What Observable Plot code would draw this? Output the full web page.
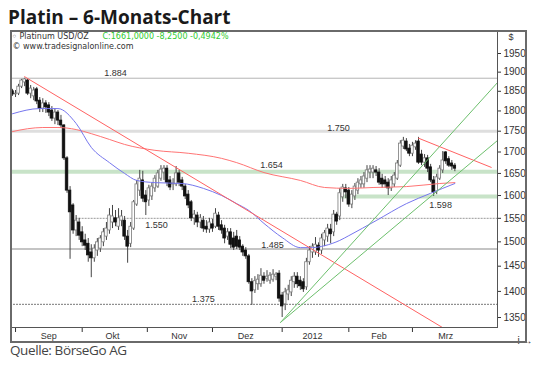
<!DOCTYPE html>
<html><head><meta charset="utf-8">
<script src="https://cdn.jsdelivr.net/npm/d3@7"></script>
<script src="https://cdn.jsdelivr.net/npm/@observablehq/plot@0.6"></script>
<style>
body{margin:0;background:#fff;width:535px;height:366px;overflow:hidden;position:relative;}
#title{position:absolute;left:8px;top:8px;font:bold 19px/19px "Open Sans",sans-serif;color:#1a1a1a;white-space:nowrap;}
#chart{position:absolute;left:0;top:28px;z-index:1;}
#box{position:absolute;left:10px;top:30px;width:517px;height:313px;box-sizing:border-box;border:2px solid #6a6a6a;pointer-events:none;z-index:2;}
#caption{position:absolute;left:10px;top:343px;font:13.5px/14px "Open Sans",sans-serif;letter-spacing:-0.4px;color:#444;white-space:nowrap;}
</style></head>
<body>
<div id="title">Platin – 6-Monats-Chart</div>
<div id="chart"></div>
<div id="box"></div>
<div id="caption">Quelle: BörseGo AG</div>
<script>
// Daily candles (trading-day index 0 = 31 Aug 2011)
const open = [1850,1842,1844,1862,1873,1878,1844,1837,1855,1826,
 1806,1819,1814,1801,1781,1796,1776,1764,1685,1611,
 1578,1524,1541,1520,1503,1496,1478,1466,1482,1486,
 1499,1511,1524,1541,1550,1532,1545,1545,1511,1496,
 1528,1580,1611,1634,1600,1589,1598,1616,1620,1638,
 1652,1661,1634,1625,1625,1650,1634,1620,1602,1585,
 1550,1556,1541,1545,1532,1526,1537,1532,1556,1535,
 1528,1511,1520,1507,1511,1503,1490,1482,1470,1418,
 1402,1414,1414,1429,1425,1421,1423,1429,1435,1392,
 1375,1394,1398,1418,1429,1421,1418,1408,1458,1478,
 1478,1492,1482,1503,1511,1526,1520,1558,1554,1596,
 1616,1611,1580,1598,1611,1625,1625,1638,1652,1652,
 1657,1652,1638,1634,1629,1616,1625,1638,1668,1713,
 1725,1708,1696,1711,1725,1694,1675,1685,1664,1634,
 1609,1638,1657,1699,1683,1673,1668];
const close = [1842,1844,1862,1878,1881,1844,1857,1852,1824,1806,
 1819,1809,1796,1781,1796,1776,1764,1685,1611,1563,
 1524,1545,1513,1499,1492,1472,1466,1486,1499,1507,
 1520,1528,1556,1554,1541,1550,1554,1511,1490,1532,
 1585,1625,1638,1593,1585,1616,1620,1638,1650,1659,
 1661,1629,1618,1627,1650,1629,1620,1598,1578,1550,
 1558,1541,1550,1528,1526,1541,1528,1560,1532,1524,
 1507,1520,1494,1488,1490,1488,1478,1470,1418,1400,
 1420,1423,1431,1421,1429,1431,1433,1433,1386,1371,
 1398,1402,1421,1429,1414,1410,1404,1458,1482,1490,
 1494,1482,1507,1518,1528,1516,1558,1543,1605,1618,
 1607,1580,1602,1620,1629,1634,1643,1657,1659,1661,
 1652,1629,1625,1625,1616,1634,1645,1673,1720,1727,
 1706,1696,1715,1720,1675,1675,1685,1661,1634,1607,
 1641,1661,1680,1678,1668,1666,1661];
const high = [1855,1852,1868,1881,1884,1881,1865,1860,1860,1834,
 1831,1826,1821,1811,1806,1801,1789,1766,1689,1620,
 1582,1556,1550,1532,1516,1507,1494,1494,1507,1513,
 1528,1541,1571,1578,1567,1571,1567,1554,1524,1541,
 1589,1634,1657,1655,1611,1623,1627,1645,1657,1668,
 1668,1668,1643,1638,1666,1657,1641,1625,1611,1589,
 1567,1563,1558,1554,1545,1550,1548,1571,1563,1545,
 1535,1528,1528,1520,1524,1511,1494,1488,1474,1425,
 1429,1433,1445,1437,1441,1437,1443,1437,1441,1398,
 1406,1412,1429,1437,1437,1429,1425,1466,1490,1496,
 1509,1498,1516,1524,1537,1537,1567,1563,1616,1625,
 1625,1618,1611,1627,1638,1643,1652,1668,1668,1668,
 1666,1661,1648,1643,1638,1643,1652,1680,1727,1735,
 1732,1718,1723,1727,1735,1704,1694,1692,1671,1643,
 1648,1668,1701,1701,1689,1680,1673];
const low = [1837,1834,1839,1857,1862,1839,1831,1826,1816,1796,
 1796,1794,1786,1774,1766,1764,1757,1680,1605,1464,
 1516,1511,1503,1490,1482,1458,1427,1458,1470,1478,
 1490,1503,1516,1528,1532,1524,1532,1503,1456,1488,
 1524,1576,1598,1585,1556,1576,1589,1607,1616,1632,
 1634,1620,1611,1611,1620,1620,1611,1591,1571,1543,
 1535,1530,1528,1520,1518,1518,1520,1528,1524,1516,
 1496,1503,1486,1482,1484,1482,1470,1464,1414,1373,
 1396,1402,1408,1414,1418,1414,1418,1421,1379,1350,
 1363,1382,1390,1406,1406,1402,1398,1402,1452,1466,
 1472,1468,1474,1490,1499,1496,1511,1535,1545,1585,
 1593,1574,1571,1589,1602,1616,1616,1629,1638,1638,
 1643,1623,1616,1616,1600,1609,1618,1634,1664,1706,
 1701,1689,1689,1704,1671,1668,1664,1652,1629,1598,
 1602,1634,1650,1671,1664,1657,1654];

// moving averages
const blueIdx = [0,9,15,21,26,32,37,41,47,56,63,69,74,78,83,89,95,99,103,108,111,120,130,138,146];
const blueVal = [1793,1806,1806,1769,1711,1675,1650,1634,1629,1627,1616,1600,1582,1567,1539,1509,1488,1488,1492,1503,1513,1545,1582,1605,1627];
const redIdx = [0,5,10,15,21,26,32,37,47,58,69,74,83,95,103,111,119,130,141,146];
const redVal = [1749,1756,1759,1759,1754,1744,1730,1718,1704,1697,1685,1675,1652,1634,1618,1616,1618,1620,1627,1629];

// trend lines [index, price]
const redTrend1 = [[4,1888],[142,1331]];
const redTrend2 = [[134,1733],[158,1664]];
const greenTrend1 = [[88.5,1341],[160,1872]];
const greenTrend2 = [[88.5,1341],[160,1727]];

// horizontal levels
const levels = [1884,1750,1654,1598,1550,1485,1375];

// axes
const yTicks = [1950,1900,1850,1800,1750,1700,1650,1600,1550,1500,1450,1400,1350];
const monthTicks = [1,23,44.5,66,89,111,132];
const monthLabels = ["Sep","Okt","Nov","Dez","2012","Feb","Mrz"];
const monthLabelAt = [12,33,55,77,99,121,143];

const legendName = "Platinum USD/OZ";
const legendQuote = "C:1661,0000 -8,2500 -0,4942%";
const legendSite = "© www.tradesignalonline.com";

const candles = close.map((c, i) => ({i, open: open[i], high: high[i], low: low[i], close: c}));
const blueMA = blueIdx.map((i, k) => ({i, v: blueVal[k]}));
const redMA = redIdx.map((i, k) => ({i, v: redVal[k]}));
const fmt = v => `${Math.floor(v / 1000)}.${String(v % 1000).padStart(3, "0")}`;

const xMax = 160.07;
const labelAt = [34, 107.6, 85.5, 141.3, 47.5, 85.8, 63];
const labelDy = [-5, -3, -7, 9, 7, -4, -5];

const chart = Plot.plot({
  width: 535, height: 318,
  marginLeft: 10, marginRight: 38, marginTop: 2, marginBottom: 19,
  style: {background: "transparent", fontFamily: "'Liberation Sans', Arial, sans-serif", fontSize: "10px", color: "#333", overflow: "visible"},
  x: {type: "linear", domain: [-0.66, xMax], axis: null},
  y: {type: "log", domain: [1350, 1950], range: [289, 25], axis: null},
  marks: [
    Plot.ruleY([levels[1]], {stroke: "#dedede", strokeWidth: 3}),
    Plot.ruleY([levels[2]], {stroke: "#c8e3c8", strokeWidth: 4}),
    Plot.ruleY([levels[3]], {x1: 107.5, x2: xMax, stroke: "#c8e3c8", strokeWidth: 4}),
    Plot.ruleY([levels[0]], {stroke: "#b4b4b4", strokeWidth: 1}),
    Plot.ruleY([levels[5]], {stroke: "#b0b0b0", strokeWidth: 1.5}),
    Plot.ruleY([levels[4]], {x1: 21, x2: xMax, stroke: "#999", strokeDasharray: "2,1"}),
    Plot.ruleY([levels[6]], {stroke: "#777", strokeDasharray: "2,1"}),
    // candles
    Plot.ruleX(candles, {x: "i", y1: "low", y2: "high", stroke: "#444", strokeWidth: 1}),
    Plot.rect(candles.filter(d => d.close >= d.open), {x1: d => d.i - 0.42, x2: d => d.i + 0.42, y1: "open", y2: "close", fill: "#fff", stroke: "#7a7a7a", strokeWidth: 0.8}),
    Plot.rect(candles.filter(d => d.close < d.open), {x1: d => d.i - 0.42, x2: d => d.i + 0.42, y1: "open", y2: "close", fill: "#111", stroke: "#111", strokeWidth: 0.8}),
    // moving averages
    Plot.line(redMA, {x: "i", y: "v", stroke: "#ff7474", strokeWidth: 1, curve: "monotone-x"}),
    Plot.line(blueMA, {x: "i", y: "v", stroke: "#7676ee", strokeWidth: 1, curve: "monotone-x"}),
    // trend lines
    Plot.line(redTrend1, {stroke: "#ff6262", strokeWidth: 1, clip: true}),
    Plot.line(redTrend2, {stroke: "#ff6262", strokeWidth: 1, clip: true}),
    Plot.line(greenTrend1, {stroke: "#6cbf6c", strokeWidth: 1, clip: true}),
    Plot.line(greenTrend2, {stroke: "#6cbf6c", strokeWidth: 1, clip: true}),
    // level labels
    ...levels.map((v, k) => Plot.text([v], {x: labelAt[k], y: d => d, text: fmt, dy: labelDy[k], fontSize: 9, fill: "#333", lineAnchor: "middle"})),
    // legend
    Plot.text(["○"], {frameAnchor: "top-left", dx: 2, dy: 6, fontSize: 6, fill: "#555", textAnchor: "start", lineAnchor: "middle"}),
    Plot.text([legendName], {frameAnchor: "top-left", dx: 9, dy: 6, fontSize: 8, fill: "#333", fontFamily: "DejaVu Sans", textAnchor: "start", lineAnchor: "middle"}),
    Plot.text([legendQuote], {frameAnchor: "top-left", dx: 92, dy: 6, fontSize: 8, fill: "#2fcb2f", fontFamily: "DejaVu Sans", textAnchor: "start", lineAnchor: "middle"}),
    Plot.text([legendSite], {frameAnchor: "top-left", dx: 2, dy: 16, fontSize: 8, fill: "#333", fontFamily: "DejaVu Sans", textAnchor: "start", lineAnchor: "middle"}),
    Plot.text(["$"], {frameAnchor: "top-right", dx: 16, dy: 7, fontSize: 9, fill: "#333", lineAnchor: "middle"}),
    // axes
    Plot.axisY({anchor: "right", ticks: yTicks, tickFormat: d => String(d), tickSize: 3, tickPadding: 3, fontSize: 10}),
    Plot.axisX({anchor: "bottom", ticks: monthTicks, tickFormat: () => "", tickSize: 5}),
    Plot.text(monthLabels, {x: (d, k) => monthLabelAt[k], frameAnchor: "bottom", dy: 9, fontSize: 9, fill: "#333", lineAnchor: "middle"}),
    Plot.frame({stroke: "#555"})
  ]
});
document.getElementById("chart").appendChild(chart);
</script>
</body></html>
